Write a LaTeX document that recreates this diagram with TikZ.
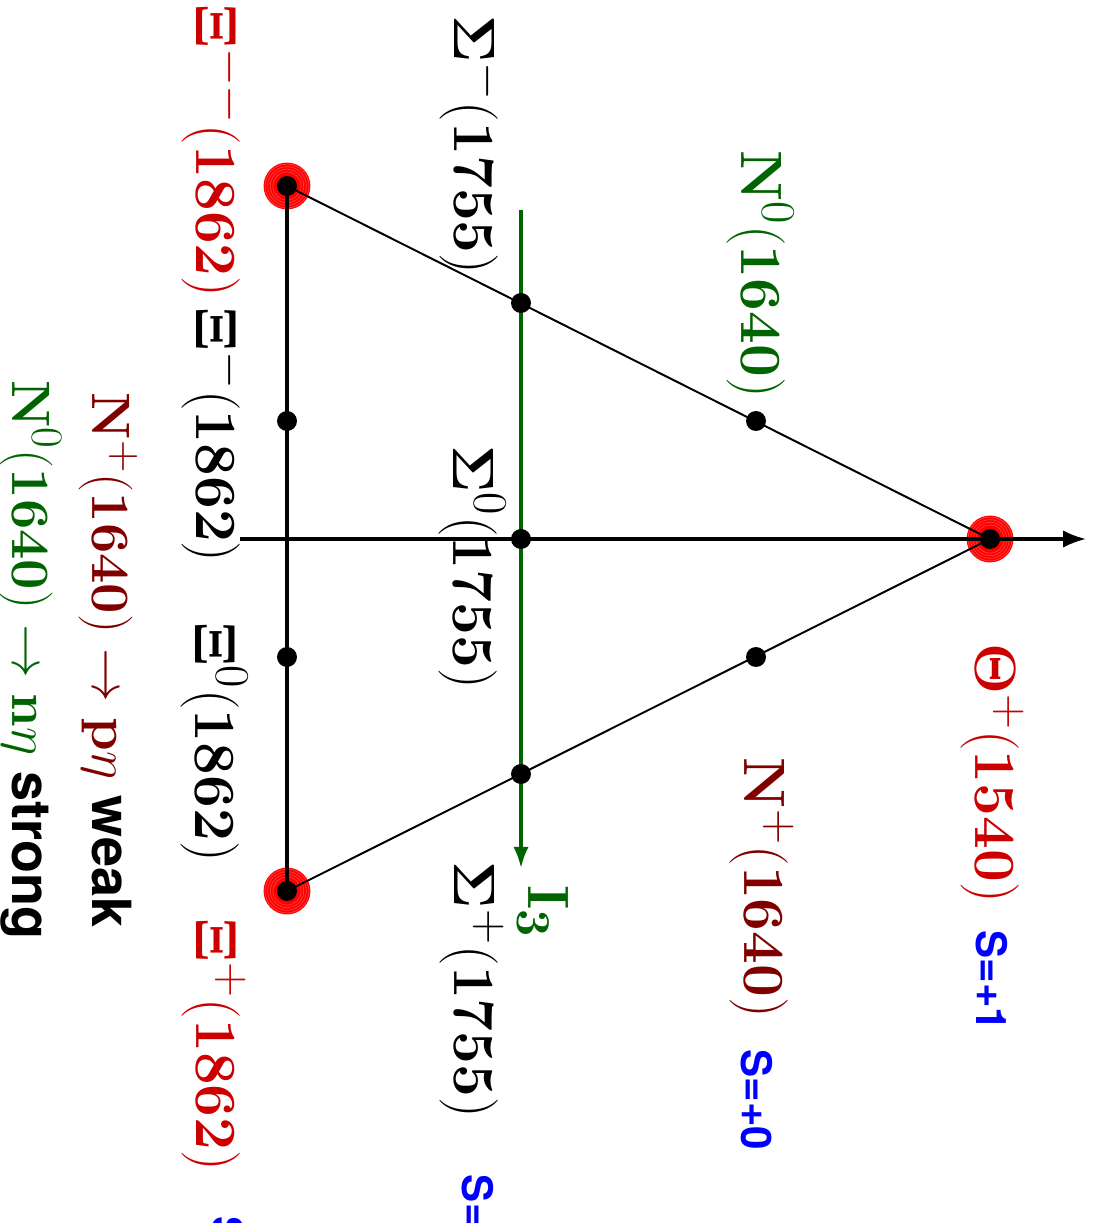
\documentclass[tikz,border=0pt]{standalone}
\usepackage[no-math]{fontspec}
\setsansfont{TeX Gyre Heros}
\usepackage{tikz}
\usetikzlibrary{arrows.meta}
\definecolor{xired}{RGB}{204,0,0}
\definecolor{nred}{RGB}{128,0,0}
\definecolor{ngreen}{RGB}{0,100,0}
\definecolor{sblue}{RGB}{0,0,255}

\begin{document}
\begin{tikzpicture}[
  x=0.4607pt, y=-0.4607pt,
  dot/.style={circle, fill=black, inner sep=0pt, minimum size=9.2pt},
  halo/.style={fill=red},
  decaylab/.style={rotate=-90, inner sep=0pt, font=\fontsize{24.88}{28}\selectfont},
  lab/.style={decaylab, scale=1.08},
  strange/.style={rotate=-90, inner sep=0pt, text=sblue,
                  font=\fontsize{19.4}{22}\selectfont\sffamily\bfseries},
  triside/.style={line width=0.9pt},
  axisline/.style={line width=1.4pt, -{Latex[length=10.5pt,width=8pt]}}
]
\useasboundingbox (0,0) rectangle (1093,1223);
\coordinate (th) at (990,539);
\coordinate (xmm) at (287,186);
\coordinate (xp) at (287,891);
\coordinate (xm) at (287,421);
\coordinate (x0) at (287,657);
\coordinate (sm) at (521,303);
\coordinate (s0) at (521,539);
\coordinate (sp) at (521,774);
\coordinate (n0) at (756,421);
\coordinate (np) at (756,657);
\coordinate (ybot) at (240,539);
\coordinate (ytop) at (1086,539);
\coordinate (itop) at (521,210);
\coordinate (ibot) at (521,868);

\foreach \p in {th,xmm,xp} {
  \fill[halo] (\p) circle (10.8pt);
  \foreach \r in {6.5,7.7,8.9,10.1} \draw[red!75, line width=0.3pt] (\p) circle (\r pt);
}

\draw[triside] (th) -- (xmm);
\draw[triside] (th) -- (xp);
\draw[line width=1.4pt] (xmm) -- (xp);
\draw[axisline] (ybot) -- (ytop);
\draw[axisline, ngreen, -{Latex[length=9.7pt,width=7pt]}] (itop) -- (ibot);

\foreach \p in {th,xmm,xp,xm,x0,sm,s0,sp,n0,np} \node[dot] (\p-dot) at (\p) {};

\node[lab, text=xired] (xmm-lab) at (214,151) {$\mathbf{\Xi}^{--}(\mathbf{1862})$};
\node[lab] (xm-lab) at (214,435) {$\mathbf{\Xi}^{-}(\mathbf{1862})$};
\node[lab] (x0-lab) at (214,742) {$\mathbf{\Xi}^{0}(\mathbf{1862})$};
\node[lab, text=xired] (xp-lab) at (214,1045) {$\mathbf{\Xi}^{+}(\mathbf{1862})$};
\node[lab] (sm-lab) at (472,145) {$\mathbf{\Sigma}^{-}(\mathbf{1755})$};
\node[lab] (s0-lab) at (472,567) {$\mathbf{\Sigma}^{0}(\mathbf{1755})$};
\node[lab] (sp-lab) at (472,990) {$\mathbf{\Sigma}^{+}(\mathbf{1755})$};
\node[lab, text=ngreen] (n0-lab) at (760,274) {$\mathbf{N}^{0}(\mathbf{1640})$};
\node[lab, text=nred] (np-lab) at (762,888) {$\mathbf{N}^{+}(\mathbf{1640})$};
\node[lab, text=xired] (th-lab) at (992,773) {$\mathbf{\Theta}^{+}(\mathbf{1540})$};
\node[lab, text=ngreen] (i3-lab) at (543,912) {$\mathbf{I}_{\mathbf{3}}$};

\node[strange] (s-p1) at (992,981) {S=+1};
\node[strange] (s-0) at (757,1100) {S=+0};
\node[strange] (s-m1) at (478,1220) {S=-1};
\node[strange] (s-m2) at (228,1262) {S=-2};

\node[decaylab, text=nred] (weak) at (108,660)
  {$\mathbf{N}^{+}(\mathbf{1640})\rightarrow\mathbf{p}\eta$ {\sffamily\bfseries\color{black}weak}};
\node[decaylab, text=ngreen] (strong) at (30,660)
  {$\mathbf{N}^{0}(\mathbf{1640})\rightarrow\mathbf{n}\eta$ {\sffamily\bfseries\color{black}strong}};
\end{tikzpicture}
\end{document}
